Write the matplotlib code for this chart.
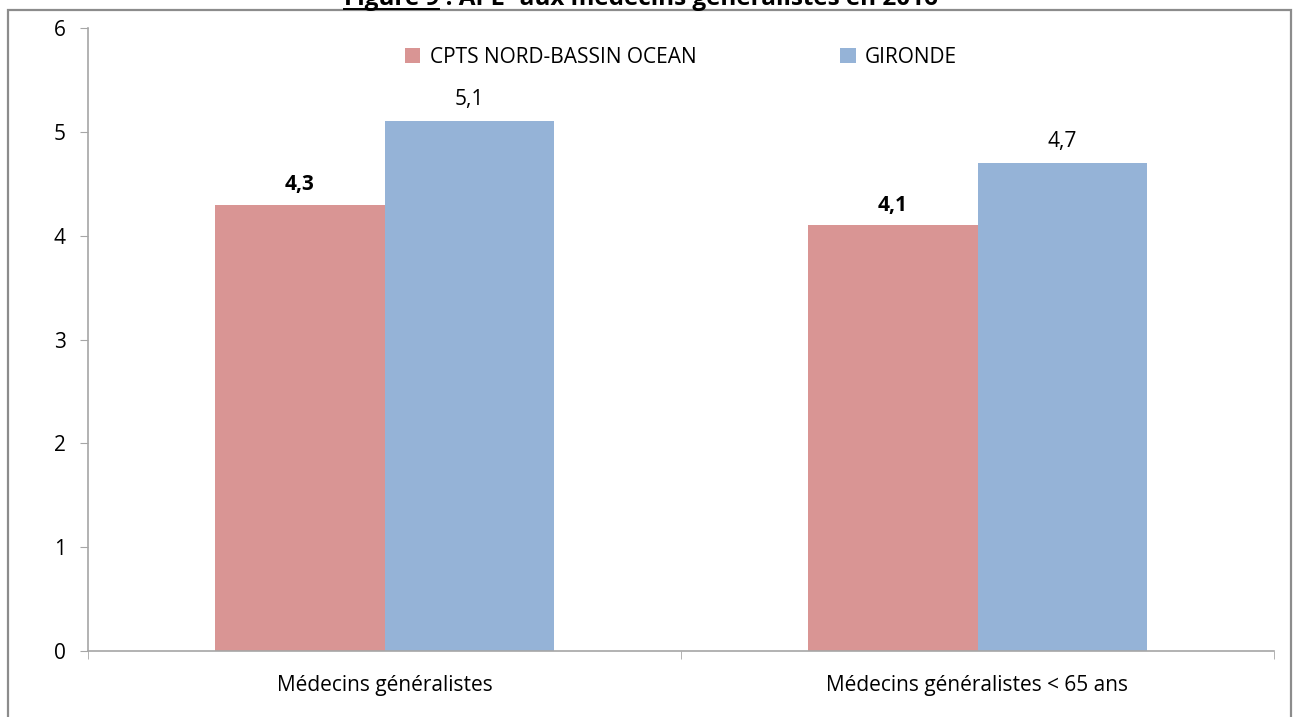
import matplotlib
matplotlib.use("Agg")
import matplotlib.pyplot as plt
from matplotlib.patches import Rectangle
from matplotlib.lines import Line2D
import numpy as np

plt.rcParams['font.family'] = ['Open Sans', 'DejaVu Sans']

categories = ["Médecins généralistes", "Médecins généralistes < 65 ans"]
series_names = ["CPTS NORD-BASSIN OCEAN", "GIRONDE"]
cpts_values = [4.3, 4.1]
gironde_values = [5.1, 4.7]
cpts_labels = ["4,3", "4,1"]
gironde_labels = ["5,1", "4,7"]
y_ticks = [0, 1, 2, 3, 4, 5, 6]
title_lead = "Figure 9"
title_rest = " : APL¹ aux médecins généralistes en 2016"

red = "#D99594"
blue = "#95B3D7"
axis_grey = "#A6A6A6"
fs = 15

W, H = 1294, 717
fig = plt.figure(figsize=(W / 100, H / 100), dpi=100)

# Chart frame
fig.patches.append(Rectangle((8 / W, -0.05), (1291 - 8) / W, (H - 10) / H + 0.05,
                             transform=fig.transFigure, fill=False,
                             edgecolor="#8C8C8C", linewidth=1.6))

ax = fig.add_axes([88 / W, (H - 651) / H, (1274 - 88) / W, (651 - 28) / H])

x = np.arange(len(categories))
bw = 0.285
ax.bar(x - bw / 2, cpts_values, bw, color=red, label=series_names[0])
ax.bar(x + bw / 2, gironde_values, bw, color=blue, label=series_names[1])

for xi, v, lab in zip(x, cpts_values, cpts_labels):
    ax.annotate(lab, (xi - bw / 2, v), xytext=(0, 7), textcoords="offset points",
                ha="center", va="bottom", fontsize=fs, fontweight="bold")
for xi, v, lab in zip(x, gironde_values, gironde_labels):
    ax.annotate(lab, (xi + bw / 2, v), xytext=(0, 8), textcoords="offset points",
                ha="center", va="bottom", fontsize=fs)

ax.set_xlim(-0.5, len(categories) - 0.5)
ax.set_ylim(0, 6)
ax.set_yticks(y_ticks)
ax.set_yticklabels([str(t) for t in y_ticks])
ax.set_xticks(x)
ax.set_xticklabels(categories)
ax.set_xticks(np.arange(len(categories) + 1) - 0.5, minor=True)
ax.tick_params(axis="x", which="major", length=0, pad=17, labelsize=fs)
ax.tick_params(axis="x", which="minor", length=6, color=axis_grey, direction="out")
ax.tick_params(axis="y", length=6, color=axis_grey, labelsize=fs, pad=10)

for s in ("top", "right"):
    ax.spines[s].set_visible(False)
for s in ("left", "bottom"):
    ax.spines[s].set_color(axis_grey)
    ax.spines[s].set_linewidth(1.2)

ax.legend(loc="upper center", bbox_to_anchor=(0.5, 1.0), ncol=2, frameon=False,
          fontsize=fs, handlelength=0.75, handleheight=0.75, handletextpad=0.45,
          columnspacing=6.9, borderaxespad=0.5)

# Title, partly cut by the top edge, with its lead underlined
title = fig.text(641 / W, 1 - 5 / H, title_lead + title_rest,
                 ha="center", va="baseline", fontsize=17.5, fontweight="bold")
fig.canvas.draw()
r = fig.canvas.get_renderer()
tb = title.get_window_extent(r)
probe = fig.text(0, 0, title_lead, fontsize=17.5, fontweight="bold")
lead_w = probe.get_window_extent(r).width
probe.remove()
uy = 1 - 9 / H
fig.add_artist(Line2D([tb.x0 / W, (tb.x0 + lead_w) / W], [uy, uy],
                      transform=fig.transFigure, color="black", linewidth=1.4))

fig.savefig("out.png", dpi=100)
